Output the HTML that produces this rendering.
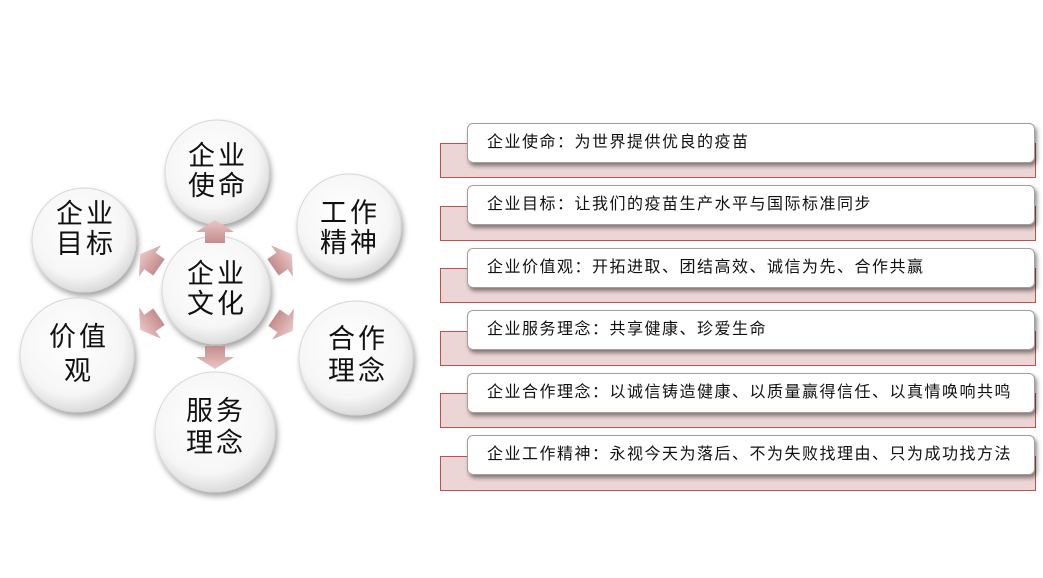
<!DOCTYPE html>
<html><head><meta charset="utf-8"><style>
body{margin:0;width:1043px;height:578px;background:#fff;overflow:hidden;position:relative;font-family:"Liberation Sans","Noto Sans CJK SC",sans-serif}
.p{position:absolute;left:440px;width:596px;height:35px;background:#ecd5d5;border:1px solid #c0504d;box-sizing:border-box}
.w{position:absolute;left:467px;width:568px;height:40px;background:#fff;border:1px solid #a0a0a0;border-radius:6px;box-sizing:border-box;box-shadow:2px 3px 4px rgba(0,0,0,.45);font-size:16px;letter-spacing:1.5px;line-height:38px;padding-left:19px;color:#111}
svg{position:absolute;left:0;top:0}
</style></head><body>
<svg width="430" height="578">
<defs>
<radialGradient id="g" cx="45%" cy="40%" r="60%"><stop offset="0" stop-color="#ffffff"/><stop offset="0.75" stop-color="#f6f6f6"/><stop offset="1" stop-color="#dcdcdc"/></radialGradient>
<filter id="s" x="-30%" y="-30%" width="160%" height="160%"><feDropShadow dx="2" dy="4" stdDeviation="3" flood-color="#000" flood-opacity="0.35"/></filter>
<linearGradient id="a" x1="0" y1="0" x2="0" y2="1"><stop offset="0" stop-color="#ebc6c6"/><stop offset="1" stop-color="#c48c8c"/></linearGradient>
<polygon id="ar" points="0,-12 19,0 10,0 10,11 -10,11 -10,0 -19,0" fill="url(#a)"/>
</defs>
<g filter="url(#s)" fill="url(#g)" stroke="#d8d8d8">
<circle cx="217" cy="172" r="52"/>
<circle cx="84" cy="240" r="52"/>
<circle cx="349" cy="226" r="52"/>
<circle cx="216" cy="290" r="54"/>
<circle cx="77" cy="355" r="57"/>
<circle cx="356" cy="358" r="57"/>
<circle cx="215" cy="432" r="60"/>
</g>
<use href="#ar" transform="translate(215,232)"/>
<use href="#ar" transform="translate(215,357) rotate(180)"/>
<use href="#ar" transform="translate(150,261) rotate(-55)"/>
<use href="#ar" transform="translate(282,261) rotate(55)"/>
<use href="#ar" transform="translate(150,323) rotate(-125)"/>
<use href="#ar" transform="translate(283,324) rotate(125)"/>
<g font-size="27" fill="#111" text-anchor="middle" letter-spacing="3" font-family="Liberation Sans, Noto Sans CJK SC, sans-serif">
<text x="218" y="165">企业</text><text x="218" y="195">使命</text>
<text x="86" y="223">企业</text><text x="86" y="253">目标</text>
<text x="350" y="222">工作</text><text x="350" y="252">精神</text>
<text x="217" y="283">企业</text><text x="217" y="313">文化</text>
<text x="79" y="346">价值</text><text x="79" y="380">观</text>
<text x="358" y="348">合作</text><text x="358" y="380">理念</text>
<text x="216" y="420">服务</text><text x="216" y="452">理念</text>
</g>
</svg>
<div class="p" style="top:143px"></div><div class="w" style="top:123px">企业使命：为世界提供优良的疫苗</div>
<div class="p" style="top:206px"></div><div class="w" style="top:185px">企业目标：让我们的疫苗生产水平与国际标准同步</div>
<div class="p" style="top:268px"></div><div class="w" style="top:248px">企业价值观：开拓进取、团结高效、诚信为先、合作共赢</div>
<div class="p" style="top:331px"></div><div class="w" style="top:310px">企业服务理念：共享健康、珍爱生命</div>
<div class="p" style="top:393px"></div><div class="w" style="top:373px">企业合作理念：以诚信铸造健康、以质量赢得信任、以真情唤响共鸣</div>
<div class="p" style="top:456px"></div><div class="w" style="top:435px">企业工作精神：永视今天为落后、不为失败找理由、只为成功找方法</div>
</body></html>
